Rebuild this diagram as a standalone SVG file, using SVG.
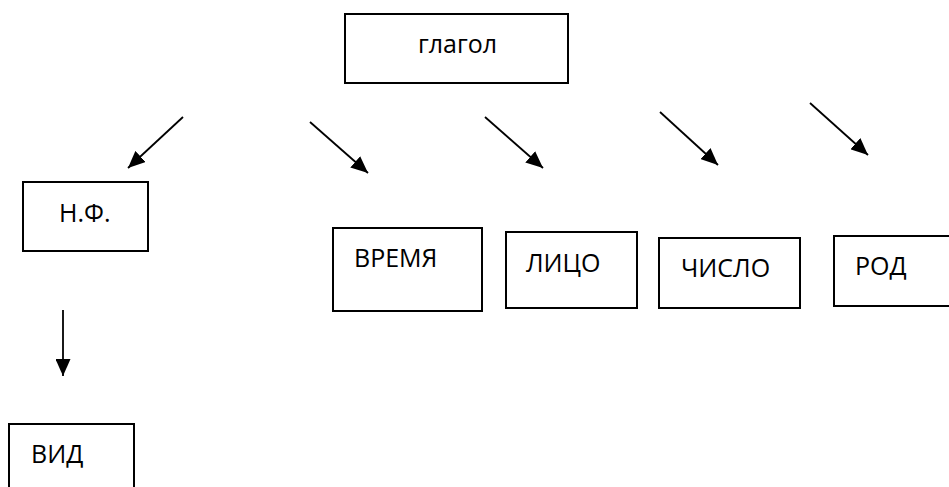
<svg xmlns="http://www.w3.org/2000/svg" width="949" height="487" viewBox="0 0 949 487">
<defs>
<style>
.box{fill:#fff;stroke:#000;stroke-width:2}
.lbl{font-family:"Open Sans","DejaVu Sans",sans-serif;font-size:25px;fill:#000}
.arr{stroke:#000;stroke-width:1.8;fill:none;marker-end:url(#ah)}
</style>
<marker id="ah" viewBox="0 0 17 15" refX="17" refY="7.5" markerWidth="17" markerHeight="15" markerUnits="userSpaceOnUse" orient="auto">
<path d="M0,0 L17,7.5 L0,15 z" fill="#000"/>
</marker>
</defs>
<rect width="949" height="487" fill="#fff"/>
<g id="n-glagol"><rect class="box" x="345" y="14" width="223" height="69"/><text class="lbl" x="418" y="53">глагол</text></g>
<g id="n-nf"><rect class="box" x="23" y="182" width="125" height="69"/><text class="lbl" x="59" y="222">Н.Ф.</text></g>
<g id="n-vremya"><rect class="box" x="333" y="228" width="149" height="83"/><text class="lbl" x="354" y="267">ВРЕМЯ</text></g>
<g id="n-litso"><rect class="box" x="506" y="232" width="131" height="76"/><text class="lbl" x="526" y="272">ЛИЦО</text></g>
<g id="n-chislo"><rect class="box" x="659" y="238" width="141" height="70"/><text class="lbl" x="681" y="277">ЧИСЛО</text></g>
<g id="n-rod"><rect class="box" x="834" y="236" width="130" height="70"/><text class="lbl" x="855" y="275">РОД</text></g>
<g id="n-vid"><rect class="box" x="9" y="424" width="125" height="80"/><text class="lbl" x="31" y="463">ВИД</text></g>
<g id="connectors">
<line class="arr" x1="183" y1="117" x2="128" y2="168"/>
<line class="arr" x1="310" y1="122" x2="368" y2="173"/>
<line class="arr" x1="485" y1="117" x2="543" y2="168"/>
<line class="arr" x1="660" y1="112" x2="718" y2="165"/>
<line class="arr" x1="810" y1="103" x2="868" y2="155"/>
<line class="arr" x1="63" y1="310" x2="63" y2="376"/>
</g>
</svg>
